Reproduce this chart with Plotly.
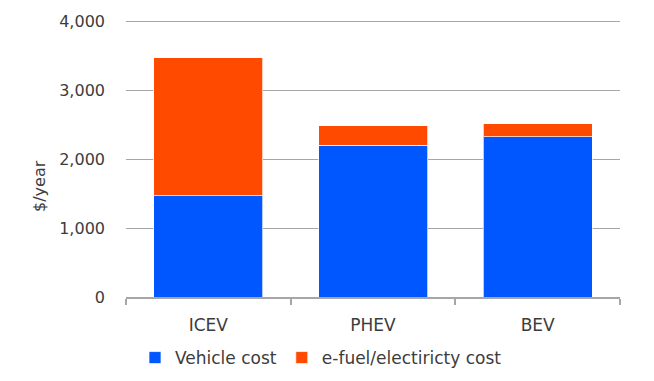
import plotly.graph_objects as go

categories = ["ICEV", "PHEV", "BEV"]
vehicle_cost = [1470, 2200, 2320]
fuel_cost = [2000, 285, 195]
series_names = ["Vehicle cost", "e-fuel/electiricty cost"]
y_ticks = [0, 1000, 2000, 3000, 4000]
y_title = "$/year"

blue = "#0057FF"
orange = "#FF4A00"
text_col = "#3c3c3c"
grid_col = "#a6a6a6"
font_family = "DejaVu Sans"

W, H = 646, 373          # page body has an 8px margin
L, R, T, B = 118, 34, 11, 84
pw, ph = W - L - R, H - T - B

def px_x(x):  # image px -> paper
    return (x - 8 - L) / pw

def px_y(y):
    return (H - B + 8 - y) / ph

def cont_x(x):
    return (x - 8) / W

def cont_y(y):
    return 1 - (y - 8) / H

fig = go.Figure()
fig.add_bar(x=categories, y=vehicle_cost, name=series_names[0],
            marker=dict(color=blue, line=dict(color="rgba(255,255,255,0.7)", width=1)))
fig.add_bar(x=categories, y=fuel_cost, name=series_names[1],
            marker=dict(color=orange, line=dict(color="rgba(255,255,255,0.7)", width=1)))

fig.update_layout(
    barmode="stack",
    bargap=0.338,
    width=W, height=H,
    margin=dict(l=L, r=R, t=T, b=B, autoexpand=False),
    plot_bgcolor="white", paper_bgcolor="white",
    font=dict(family=font_family, size=16, color=text_col),
    legend=dict(orientation="h", xref="container", yref="container",
                x=cont_x(135), xanchor="left", y=cont_y(358), yanchor="middle",
                font=dict(size=17, color=text_col), itemwidth=30, traceorder="normal",
                bgcolor="rgba(0,0,0,0)"),
    annotations=[dict(text=y_title, x=px_x(39), xref="paper", y=px_y(186), yref="paper",
                      xanchor="center", yanchor="middle",
                      showarrow=False, textangle=-90, font=dict(size=16, color=text_col))],
)

fig.update_yaxes(range=[0, 4030], tickvals=y_ticks, tickformat=",", automargin=False,
                 showgrid=True, gridcolor=grid_col, gridwidth=1,
                 zeroline=False, showline=False, ticks="", ticklabelstandoff=20)
fig.update_xaxes(showline=True, linecolor=grid_col, linewidth=1.5, automargin=False,
                 ticks="outside", tickson="boundaries", ticklen=6, tickcolor=grid_col,
                 tickwidth=1.5, ticklabelstandoff=12, tickfont=dict(size=17))

fig.write_html("out.html")
